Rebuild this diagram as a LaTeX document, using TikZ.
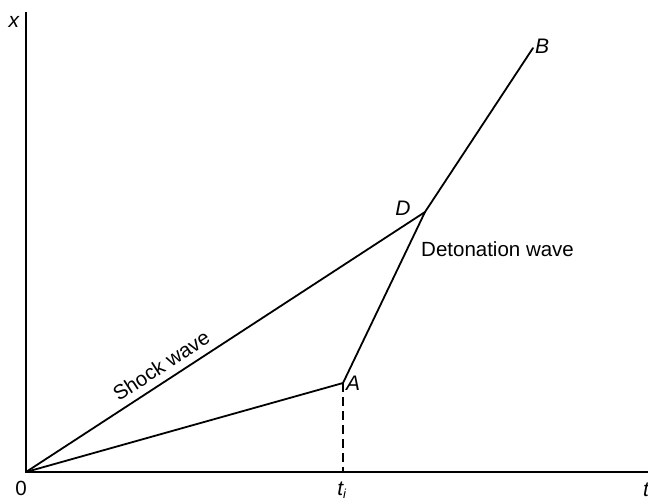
\documentclass[tikz,border=0pt]{standalone}
\usepackage{fontspec}
\setmainfont{Liberation Sans}
\begin{document}
\begin{tikzpicture}[x=1pt,y=-1pt,
  axis/.style={line width=2.4pt},
  wave/.style={line width=1.8pt, line cap=round, line join=round},
  lbl/.style={font=\fontsize{21}{24}\selectfont\itshape, inner sep=0pt},
  txt/.style={font=\fontsize{20.5}{24}\selectfont, inner sep=0pt}]
\useasboundingbox (0,0) rectangle (648,501);
\coordinate (O) at (26,472);
\coordinate (ytop) at (26,12);
\coordinate (xend) at (650,472);
\coordinate (A) at (343,383);
\coordinate (D) at (425,212);
\coordinate (B) at (533,48);
\coordinate (Ai) at (343,472);
\draw[axis] (ytop) -- (O) -- (xend);
\draw[wave] (O) -- (A) -- (D) -- (B);
\draw[wave] (O) -- node[txt, pos=0.36, sloped, above=7pt] {Shock wave} (D);
\draw[line width=1.8pt, dash pattern=on 9pt off 5pt] (A) -- (Ai);
\node[lbl] (xl) at (14,22) {x};
\node[txt] (zero) at (21,488) {0};
\node[lbl, anchor=west] (Al) at (346,383) {A};
\node[lbl] (Dl) at (403,208) {D};
\node[lbl, anchor=west] (Bl) at (535,46) {B};
\node[lbl] (ti) at (342,490) {t\textsubscript{\fontsize{13}{13}\selectfont i}};
\node[lbl] (tl) at (646,490) {t};
\node[txt, anchor=west] (det) at (421,249) {Detonation wave};
\end{tikzpicture}
\end{document}
